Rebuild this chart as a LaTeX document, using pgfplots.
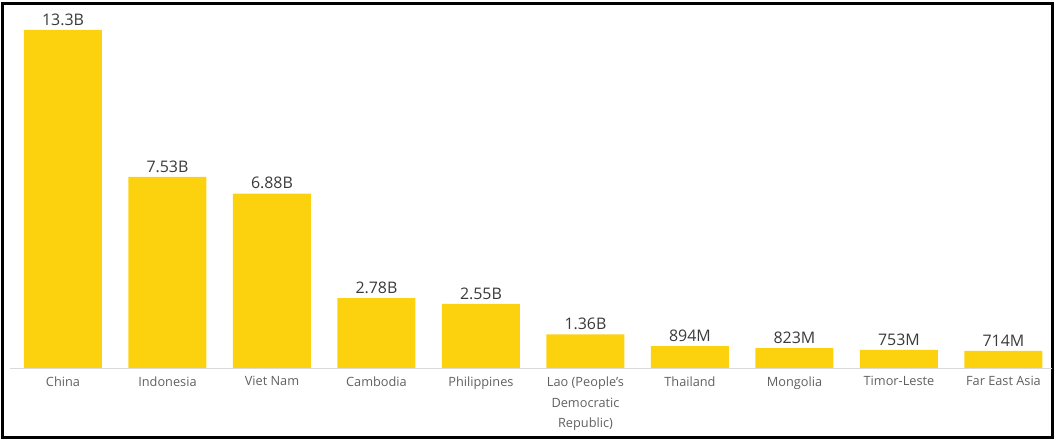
\documentclass[border=0pt]{standalone}
\usepackage{pgfplots}
\pgfplotsset{compat=1.18}
\usepackage{fontspec}
\setmainfont{Open Sans}
\definecolor{baryellow}{HTML}{FCD20F}
\definecolor{valtext}{HTML}{3A3A3A}
\definecolor{cattext}{HTML}{606060}
\definecolor{basecol}{HTML}{D9D9D9}
\begin{document}
\begin{tikzpicture}[x=1bp,y=1bp]
\useasboundingbox (0,0) rectangle (1055,441);
\draw[line width=3bp] (2.5,3.5) rectangle (1052,437.5);
\begin{axis}[
  at={(10bp,72bp)}, anchor=south west,
  scale only axis, width=1042bp, height=357bp,
  xmin=-0.507, xmax=9.464, ymin=0, ymax=14,
  clip=false,
  axis line style={draw=none},
  ytick=\empty,
  xtick={0,...,9},
  xticklabels={China,Indonesia,Viet Nam,Cambodia,Philippines,{Lao (People's\\Democratic\\Republic)},Thailand,Mongolia,Timor-Leste,Far East Asia},
  major tick length=0pt,
  xticklabel style={align=center, font=\fontsize{12.8}{20.9}\selectfont, text=cattext, yshift=-4bp},
  ybar, bar width=78bp,
  point meta=explicit symbolic,
  nodes near coords,
  every node near coord/.append style={font=\fontsize{16}{18}\selectfont, text=valtext, yshift=1bp},
]
\addplot[fill=baryellow, draw=none] coordinates {
(0,13.3) [13.3B]
(1,7.53) [7.53B]
(2,6.88) [6.88B]
(3,2.78) [2.78B]
(4,2.55) [2.55B]
(5,1.36) [1.36B]
(6,0.894) [894M]
(7,0.823) [823M]
(8,0.753) [753M]
(9,0.714) [714M]
};
\draw[draw=basecol, line width=1bp] (axis cs:-0.507,0) -- (axis cs:9.464,0);
\end{axis}
\end{tikzpicture}
\end{document}
